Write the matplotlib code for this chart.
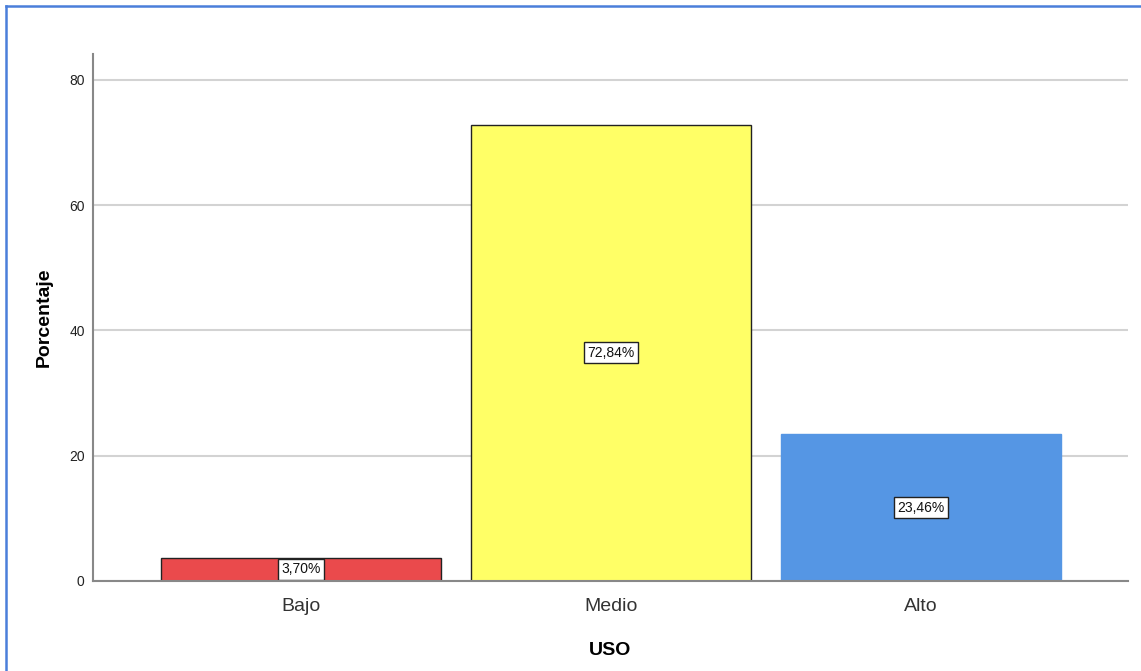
import matplotlib.pyplot as plt
from matplotlib.lines import Line2D

plt.rcParams["font.family"] = ["Liberation Sans", "DejaVu Sans"]

categorias = ["Bajo", "Medio", "Alto"]
porcentajes = [3.70, 72.84, 23.46]
etiquetas = ["3,70%", "72,84%", "23,46%"]
colores = ["#EA4A4C", "#FFFF66", "#5596E4"]
bordes = ["#222222", "#222222", "#5596E4"]

W, H = 1141, 671
fig = plt.figure(figsize=(W / 100, H / 100), dpi=100)
ax = fig.add_axes([93 / W, (H - 581) / H, (1128 - 93) / W, (581 - 54) / H])

x = list(range(len(categorias)))
ax.bar(x, porcentajes, width=0.903, color=colores, edgecolor=bordes,
       linewidth=1.0, zorder=3)
for xi, val, lab in zip(x, porcentajes, etiquetas):
    ax.text(xi, val / 2, lab, ha="center", va="center", fontsize=10,
            color="#111111", zorder=4,
            bbox=dict(boxstyle="square,pad=0.25", facecolor="white",
                      edgecolor="#222222", linewidth=1.0))

ax.set_xlim(-0.671, 2.668)
ax.set_ylim(0, 84.15)
ax.set_yticks([0, 20, 40, 60, 80])
ax.set_xticks(x)
ax.set_xticklabels(categorias, fontsize=14, color="#333333")
ax.tick_params(axis="y", length=0, labelsize=10, pad=6, colors="#222222")
ax.tick_params(axis="x", length=0, pad=12)
ax.grid(True, axis="y", color="#D3D3D3", linewidth=1.5, zorder=0)

for s in ["top", "right"]:
    ax.spines[s].set_visible(False)
for s in ["left", "bottom"]:
    ax.spines[s].set_color("#888888")
    ax.spines[s].set_linewidth(1.5)
    ax.spines[s].set_zorder(5)

ax.set_ylabel("Porcentaje", fontsize=14, fontweight="bold", labelpad=12)
ax.set_xlabel("USO", fontsize=14, fontweight="bold", labelpad=20)

# marco exterior
fig.add_artist(Line2D([6 / W, 1.0], [1 - 6 / H, 1 - 6 / H],
                      transform=fig.transFigure, color="#4A7FDA", linewidth=1.8))
fig.add_artist(Line2D([6 / W, 6 / W], [0, 1 - 6 / H],
                      transform=fig.transFigure, color="#4A7FDA", linewidth=1.8))

fig.savefig("out.png", dpi=100)
